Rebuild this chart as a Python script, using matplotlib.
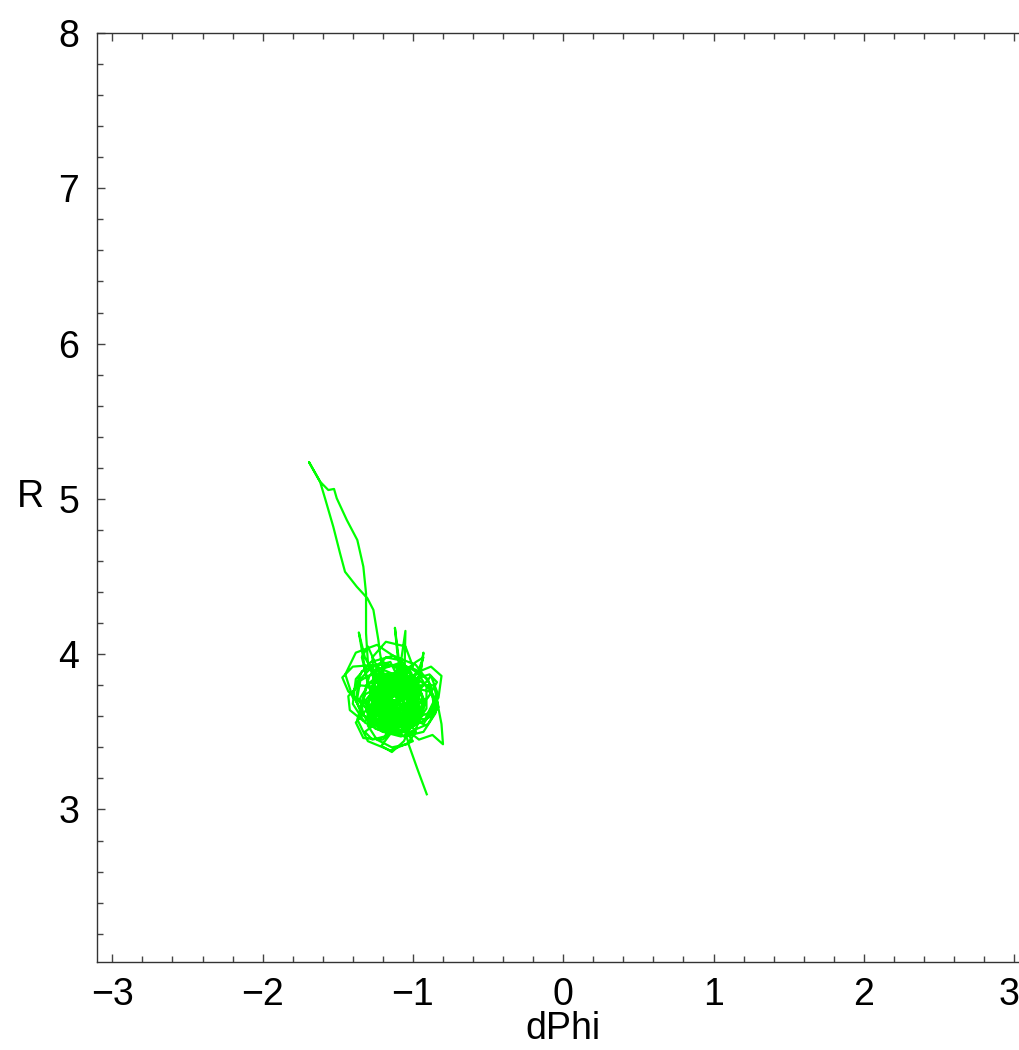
import matplotlib
matplotlib.use("Agg")
import matplotlib.pyplot as plt
from matplotlib.ticker import MultipleLocator
import matplotlib.transforms as mtransforms
import numpy as np

plt.rcParams['font.family'] = ['Liberation Sans', 'DejaVu Sans']

# trajectory (dPhi, R)
tail_in = [(-0.908, 3.098), (-0.97, 3.26), (-1.031, 3.426), (-1.03, 3.43)]

loops_1 = [
    (-1.06, 3.52), (-1.12, 3.60), (-1.22, 3.62), (-1.30, 3.68), (-1.27, 3.80), (-1.18, 3.86), (-1.07, 3.84), (-0.99, 3.76), (-0.97, 3.66), (-1.02, 3.57),
    (-1.10, 3.55), (-1.19, 3.58), (-1.26, 3.66), (-1.24, 3.76), (-1.15, 3.81), (-1.05, 3.79), (-0.98, 3.70), (-0.95, 3.59), (-0.99, 3.50), (-1.08, 3.47),
    (-1.20, 3.50), (-1.32, 3.56), (-1.40, 3.68), (-1.38, 3.84), (-1.28, 3.95), (-1.13, 3.99), (-0.98, 3.93), (-0.88, 3.80), (-0.86, 3.66), (-0.93, 3.55),
    (-1.05, 3.60), (-1.15, 3.66), (-1.20, 3.75), (-1.17, 3.85), (-1.08, 3.90), (-0.99, 3.86), (-0.95, 3.76), (-1.00, 3.67), (-1.10, 3.63),
    (-1.22, 3.68), (-1.30, 3.80), (-1.36, 4.14), (-1.32, 3.98), (-1.25, 3.86), (-1.13, 3.80), (-1.03, 3.74), (-0.99, 3.63), (-1.04, 3.53), (-1.14, 3.49),
    (-1.25, 3.52), (-1.33, 3.61), (-1.35, 3.72), (-1.29, 3.81), (-1.18, 3.84), (-1.09, 3.78), (-1.06, 3.68), (-1.11, 3.60), (-1.20, 3.58),
    (-1.32, 3.66), (-1.43, 3.76), (-1.47, 3.85), (-1.40, 3.92), (-1.27, 3.93), (-1.15, 3.88), (-1.06, 3.80), (-1.02, 3.70), (-1.06, 3.62),
    (-1.00, 3.58), (-0.90, 3.62), (-0.83, 3.72), (-0.81, 3.86), (-0.88, 3.92), (-0.98, 3.88), (-1.06, 3.79), (-1.11, 3.69), (-1.10, 3.59),
    (-1.14, 3.50), (-1.21, 3.41), (-1.14, 3.37), (-1.06, 3.44), (-1.01, 3.55), (-1.05, 3.66), (-1.14, 3.71), (-1.24, 3.70), (-1.29, 3.62), (-1.25, 3.54),
    (-1.17, 3.60), (-1.09, 3.66), (-1.07, 3.78), (-1.12, 4.17), (-1.10, 3.97), (-1.04, 3.86), (-0.97, 3.80), (-0.93, 3.71), (-0.96, 3.61),
    (-1.04, 3.56), (-1.13, 3.56), (-1.21, 3.63), (-1.23, 3.73), (-1.18, 3.82), (-1.09, 3.85), (-1.01, 3.80), (-0.99, 3.71), (-1.03, 3.63),
    (-1.05, 3.52), (-0.96, 3.45), (-0.87, 3.48), (-0.80, 3.42), (-0.81, 3.55), (-0.84, 3.70), (-0.91, 3.80), (-1.01, 3.86), (-1.12, 3.85), (-1.20, 3.78),
    (-1.24, 3.67), (-1.21, 3.56), (-1.12, 3.52), (-1.03, 3.55), (-0.98, 3.64), (-1.00, 3.75), (-1.07, 3.81), (-1.16, 3.80), (-1.21, 3.72),
    (-1.18, 3.64), (-1.11, 3.62), (-1.06, 3.70), (-1.05, 4.15), (-1.08, 3.95), (-1.14, 3.84), (-1.24, 3.79), (-1.31, 3.71), (-1.30, 3.60), (-1.22, 3.52),
    (-1.13, 3.49), (-1.03, 3.51), (-0.95, 3.58), (-0.92, 3.69), (-0.96, 3.79), (-1.05, 3.83), (-1.14, 3.79), (-1.18, 3.70), (-1.15, 3.62),
    (-1.22, 3.58), (-1.33, 3.57), (-1.42, 3.64), (-1.43, 3.73), (-1.36, 3.80), (-1.25, 3.79), (-1.17, 3.73), (-1.13, 3.64), (-1.16, 3.55),
    (-1.10, 3.50), (-1.01, 3.54), (-0.96, 3.64), (-0.98, 3.74), (-1.06, 3.77), (-1.14, 3.72), (-1.16, 3.62), (-1.11, 3.56),
    (-1.03, 3.62), (-0.98, 3.70), (-0.93, 4.01), (-0.95, 3.88), (-1.00, 3.80), (-1.10, 3.76), (-1.19, 3.70), (-1.22, 3.61), (-1.17, 3.54),
    (-1.08, 3.53), (-1.00, 3.60), (-0.97, 3.70), (-1.01, 3.80), (-1.10, 3.84), (-1.19, 3.80), (-1.24, 3.70), (-1.20, 3.60),
    (-1.25, 3.55), (-1.32, 3.50), (-1.27, 3.45), (-1.19, 3.47), (-1.12, 3.55), (-1.08, 3.65), (-1.11, 3.75), (-1.19, 3.78), (-1.26, 3.72),
    (-1.27, 3.62), (-1.21, 3.55), (-1.11, 3.55), (-1.04, 3.62), (-1.03, 3.73), (-1.09, 3.81), (-1.18, 3.83), (-1.25, 3.77),
    (-1.20, 3.68), (-1.10, 3.64), (-1.00, 3.66), (-0.90, 3.72), (-0.84, 3.82), (-0.89, 3.87), (-0.99, 3.84), (-1.07, 3.76), (-1.11, 3.66),
    (-1.08, 3.58), (-1.00, 3.55), (-0.94, 3.62), (-0.94, 3.73), (-1.01, 3.78), (-1.09, 3.74), (-1.12, 3.65), (-1.07, 3.58),
    (-1.14, 3.68), (-1.22, 3.78), (-1.25, 3.90), (-1.18, 3.98), (-1.08, 3.96), (-1.01, 3.88), (-1.02, 3.78), (-1.09, 3.70), (-1.17, 3.66),
    (-1.22, 3.60), (-1.19, 3.52), (-1.10, 3.48), (-1.02, 3.52), (-0.99, 3.62), (-1.03, 3.72), (-1.12, 3.76), (-1.18, 3.70), (-1.15, 3.62),
]

# strand going up to the start point and back down the other side
strand_up = [(-1.219, 4.005), (-1.230, 4.091), (-1.263, 4.285), (-1.303, 4.360), (-1.374, 4.435),
             (-1.452, 4.531), (-1.485, 4.650), (-1.530, 4.821), (-1.585, 5.004), (-1.618, 5.111),
             (-1.691, 5.236), (-1.618, 5.111)]
strand_down = [(-1.563, 5.057), (-1.525, 5.064), (-1.507, 5.004), (-1.440, 4.864), (-1.370, 4.735),
               (-1.330, 4.564), (-1.312, 4.392), (-1.312, 4.135), (-1.30, 3.95), (-1.26, 3.84)]

loops_2 = [
    (-1.24, 3.74), (-1.16, 3.66), (-1.06, 3.64), (-0.99, 3.70), (-1.00, 3.80), (-1.08, 3.87), (-1.18, 3.86), (-1.24, 3.78),
    (-1.23, 3.67), (-1.16, 3.60), (-1.06, 3.59), (-0.99, 3.66), (-0.98, 3.76), (-1.05, 3.82), (-1.14, 3.80), (-1.19, 3.72),
    (-1.15, 3.62), (-1.07, 3.56), (-0.97, 3.55), (-0.88, 3.60), (-0.84, 3.68), (-0.89, 3.76), (-0.98, 3.78), (-1.07, 3.73), (-1.12, 3.64),
    (-1.20, 3.60), (-1.30, 3.64), (-1.37, 3.72), (-1.35, 3.83), (-1.26, 3.88), (-1.16, 3.85), (-1.10, 3.76), (-1.12, 3.67),
    (-1.17, 3.59), (-1.10, 3.53), (-1.02, 3.56), (-0.98, 3.65), (-1.02, 3.73), (-1.11, 3.75), (-1.18, 3.69), (-1.17, 3.61),
    (-1.12, 3.60), (-1.04, 3.64), (-1.02, 3.73), (-1.08, 3.80), (-1.17, 3.79), (-1.22, 3.71), (-1.19, 3.63), (-1.11, 3.60),
    (-1.04, 3.58), (-0.98, 3.50), (-1.04, 3.42), (-1.14, 3.40), (-1.24, 3.45), (-1.30, 3.54), (-1.28, 3.64), (-1.20, 3.70), (-1.10, 3.70), (-1.05, 3.64),
    (-1.06, 3.56), (-1.14, 3.53), (-1.21, 3.58), (-1.22, 3.68), (-1.16, 3.75), (-1.07, 3.76), (-1.01, 3.70), (-1.02, 3.61),
    (-1.09, 3.57), (-1.17, 3.61), (-1.19, 3.71), (-1.13, 3.79), (-1.04, 3.78), (-0.99, 3.70), (-1.03, 3.62), (-1.11, 3.62), (-1.15, 3.69),
]

loops_3 = [
    (-1.10, 3.68), (-1.18, 3.62), (-1.27, 3.63), (-1.33, 3.70), (-1.31, 3.80), (-1.22, 3.87), (-1.11, 3.88), (-1.01, 3.83), (-0.96, 3.74), (-0.99, 3.64), (-1.07, 3.58),
    (-1.16, 3.56), (-1.24, 3.61), (-1.28, 3.71), (-1.23, 3.80), (-1.13, 3.83), (-1.04, 3.78), (-1.01, 3.68), (-1.06, 3.60),
    (-1.14, 3.59), (-1.20, 3.66), (-1.19, 3.76), (-1.12, 3.82), (-1.03, 3.81), (-0.97, 3.73), (-0.96, 3.63), (-1.02, 3.56), (-1.12, 3.54),
    (-1.22, 3.62), (-1.28, 3.75), (-1.34, 3.98), (-1.30, 4.05), (-1.24, 3.92), (-1.18, 3.80), (-1.10, 3.74), (-1.04, 3.66), (-1.07, 3.57),
    (-1.15, 3.52), (-1.25, 3.55), (-1.31, 3.64), (-1.28, 3.74), (-1.19, 3.79), (-1.09, 3.77), (-1.04, 3.70), (-1.07, 3.62),
    (-1.13, 3.62), (-1.16, 3.71), (-1.12, 3.79), (-1.04, 3.82), (-0.96, 3.78), (-0.92, 3.68), (-0.96, 3.58), (-1.05, 3.53), (-1.15, 3.55),
    (-1.21, 3.63), (-1.21, 3.74), (-1.14, 3.80), (-1.05, 3.76), (-1.02, 3.67), (-1.07, 3.60), (-1.16, 3.60), (-1.22, 3.68),
    (-1.27, 3.78), (-1.22, 3.90), (-1.10, 3.94), (-0.98, 3.90), (-0.91, 3.79), (-0.91, 3.65), (-0.99, 3.54), (-1.11, 3.50), (-1.23, 3.54), (-1.29, 3.63),
    (-1.25, 3.72), (-1.16, 3.76), (-1.07, 3.72), (-1.05, 3.63), (-1.11, 3.57), (-1.19, 3.60), (-1.21, 3.69), (-1.15, 3.75),
    (-1.06, 3.76), (-1.00, 3.69), (-1.02, 3.60), (-1.10, 3.57), (-1.18, 3.61), (-1.20, 3.70), (-1.14, 3.77), (-1.06, 3.79), (-0.99, 3.74),
    (-0.97, 3.65), (-1.03, 3.58), (-1.13, 3.58), (-1.19, 3.65), (-1.17, 3.74), (-1.09, 3.78), (-1.02, 3.73), (-1.03, 3.64), (-1.10, 3.61),
    (-1.17, 3.66), (-1.16, 3.75), (-1.08, 3.80), (-0.99, 3.78), (-0.95, 3.70), (-0.99, 3.61), (-1.08, 3.58), (-1.16, 3.62), (-1.18, 3.71),
    (-1.24, 3.82), (-1.19, 3.92), (-1.08, 3.93), (-1.03, 3.85), (-1.08, 3.76), (-1.17, 3.72), (-1.25, 3.68), (-1.27, 3.58), (-1.20, 3.50), (-1.10, 3.52),
    (-1.04, 3.61), (-1.07, 3.71), (-1.15, 3.74), (-1.22, 3.68), (-1.20, 3.59), (-1.12, 3.56), (-1.05, 3.60),
    (-1.00, 3.68), (-1.04, 3.78), (-1.14, 3.83), (-1.24, 3.78), (-1.27, 3.68), (-1.22, 3.59), (-1.13, 3.56), (-1.06, 3.62),
]

# wider outer loops of the tangle
loops_4 = [
    (-1.00, 3.75), (-1.06, 3.89), (-1.20, 3.95), (-1.34, 3.89), (-1.40, 3.75), (-1.34, 3.61), (-1.20, 3.55), (-1.06, 3.61),
    (-0.92, 3.58), (-0.86, 3.70), (-0.90, 3.84), (-1.02, 3.91), (-1.15, 3.86), (-1.22, 3.74), (-1.18, 3.60), (-1.06, 3.52),
    (-1.00, 3.44), (-1.15, 3.38), (-1.30, 3.44), (-1.37, 3.58), (-1.32, 3.74), (-1.17, 3.82), (-1.02, 3.76), (-0.94, 3.62),
    (-1.05, 3.80), (-1.10, 3.97), (-1.24, 4.06), (-1.38, 4.01), (-1.45, 3.87), (-1.40, 3.72), (-1.26, 3.66), (-1.12, 3.70),
    (-0.98, 3.74), (-0.88, 3.86), (-0.84, 3.76), (-0.85, 3.62), (-0.93, 3.50), (-1.06, 3.47), (-1.17, 3.54), (-1.20, 3.68), (-1.12, 3.80),
    (-1.00, 3.92), (-1.05, 4.05), (-1.18, 4.08), (-1.27, 3.98), (-1.26, 3.84), (-1.15, 3.76), (-1.04, 3.79), (-0.97, 3.88),
    (-0.93, 3.98), (-0.98, 3.95), (-1.10, 3.86), (-1.26, 3.70), (-1.38, 3.56), (-1.33, 3.46), (-1.20, 3.45), (-1.10, 3.55), (-1.02, 3.68),
    (-0.95, 3.80), (-0.86, 3.80), (-0.83, 3.66), (-0.90, 3.55), (-1.02, 3.50), (-1.15, 3.52), (-1.26, 3.60), (-1.33, 3.72), (-1.29, 3.86), (-1.18, 3.93), (-1.06, 3.92),
    (-0.98, 3.83), (-0.98, 3.69), (-1.06, 3.57), (-1.19, 3.52), (-1.31, 3.58), (-1.38, 3.70), (-1.36, 3.83), (-1.27, 3.92), (-1.15, 3.95), (-1.10, 3.85),
]

path = np.array(tail_in + loops_1 + strand_up + strand_down + loops_2 + loops_3 + loops_4)
dphi = path[:, 0]
r = path[:, 1]

fig = plt.figure(figsize=(10.2, 10.5), dpi=100)
ax = fig.add_axes([0.0951, 0.0838, 0.9136, 0.8848])

ax.plot(dphi, r, color='#00ff00', lw=1.6)

ax.set_xlim(-3.102, 3.098)
ax.set_ylim(2.018, 8)

ax.set_xticks([-3, -2, -1, 0, 1, 2, 3])
ax.xaxis.set_minor_locator(MultipleLocator(0.2))
ax.yaxis.set_major_locator(MultipleLocator(1))
ax.yaxis.set_minor_locator(MultipleLocator(0.2))

ax.tick_params(which='both', direction='in', top=True, right=True, color='#444444', width=1)
ax.tick_params(which='major', length=6, labelsize=27)
ax.tick_params(axis='x', which='major', pad=11)
ax.tick_params(axis='y', which='major', pad=13)
ax.tick_params(which='minor', length=4)
for s in ax.spines.values():
    s.set_color('#333333')
    s.set_linewidth(1)

# nudge the last x label so it stays inside the picture
last = ax.get_xticklabels()[-1]
last.set_transform(last.get_transform() + mtransforms.ScaledTranslation(-4 / 72, 0, fig.dpi_scale_trans))

ax.set_xlabel("dPhi", fontsize=27, labelpad=-2)
ax.set_ylabel("R", fontsize=27, rotation=0, labelpad=20, va='center')

fig.savefig("out.png", dpi=100, facecolor='w')
